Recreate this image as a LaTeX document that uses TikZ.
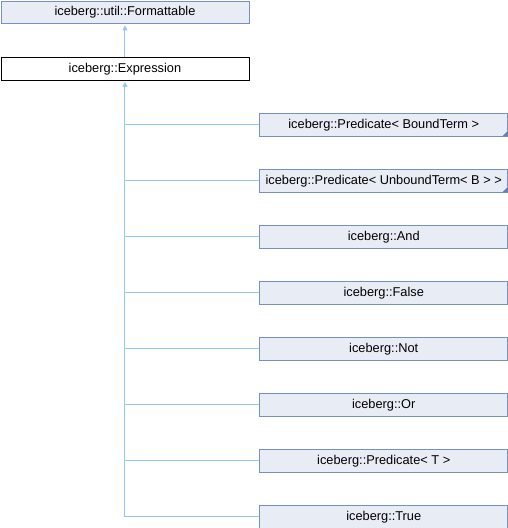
\documentclass[tikz,border=0pt]{standalone}
\usepackage{fontspec}
\setmainfont{Liberation Sans}
\usetikzlibrary{arrows.meta}
\definecolor{boxfill}{RGB}{232,236,244}
\definecolor{boxdraw}{RGB}{120,142,196}
\definecolor{edgecol}{RGB}{150,200,236}
\definecolor{cornercol}{RGB}{100,128,188}
\tikzset{
  cls/.style={draw=boxdraw, fill=boxfill, line width=0.9pt, minimum width=248pt, minimum height=22.5pt, inner sep=0pt, anchor=north west, font=\fontsize{12.8}{14}\selectfont},
  cur/.style={cls, draw=black, fill=white},
  edge/.style={draw=edgecol, line width=1pt},
  inh/.style={edge, -{Triangle[width=5pt,length=5pt,fill=edgecol]}, shorten >=1.5pt},
}
\newcommand{\tmplcorner}[1]{\fill[cornercol] (#1.south east) -- ++(-6,0) -- ++(6,-6) -- cycle;}
\begin{document}
\begin{tikzpicture}[x=1pt,y=-1pt]
\useasboundingbox (0,0) rectangle (508,528);
\node[cls] (fmt) at (0.5,0.5) {iceberg::util::Formattable};
\node[cur] (expr) at (0.5,57) {iceberg::Expression};
\node[cls] (pbt) at (259.3,113) {iceberg::Predicate\textless{} BoundTerm \textgreater{}};
\node[cls] (put) at (259.3,169) {iceberg::Predicate\textless{} UnboundTerm\textless{} B \textgreater{} \textgreater{}};
\node[cls] (and) at (259.3,225) {iceberg::And};
\node[cls] (false) at (259.3,281) {iceberg::False};
\node[cls] (not) at (259.3,337) {iceberg::Not};
\node[cls] (or) at (259.3,393) {iceberg::Or};
\node[cls] (pt) at (259.3,449) {iceberg::Predicate\textless{} T \textgreater{}};
\node[cls] (true) at (259.3,505) {iceberg::True};
\tmplcorner{pbt}
\tmplcorner{put}
\draw[inh] (expr.north) -- (fmt.south);
\draw[inh] (true.west) -| (expr.south);
\foreach \c in {pbt,put,and,false,not,or,pt}
  \draw[edge] (\c.west) -- (\c.west -| expr.south);
\end{tikzpicture}
\end{document}
